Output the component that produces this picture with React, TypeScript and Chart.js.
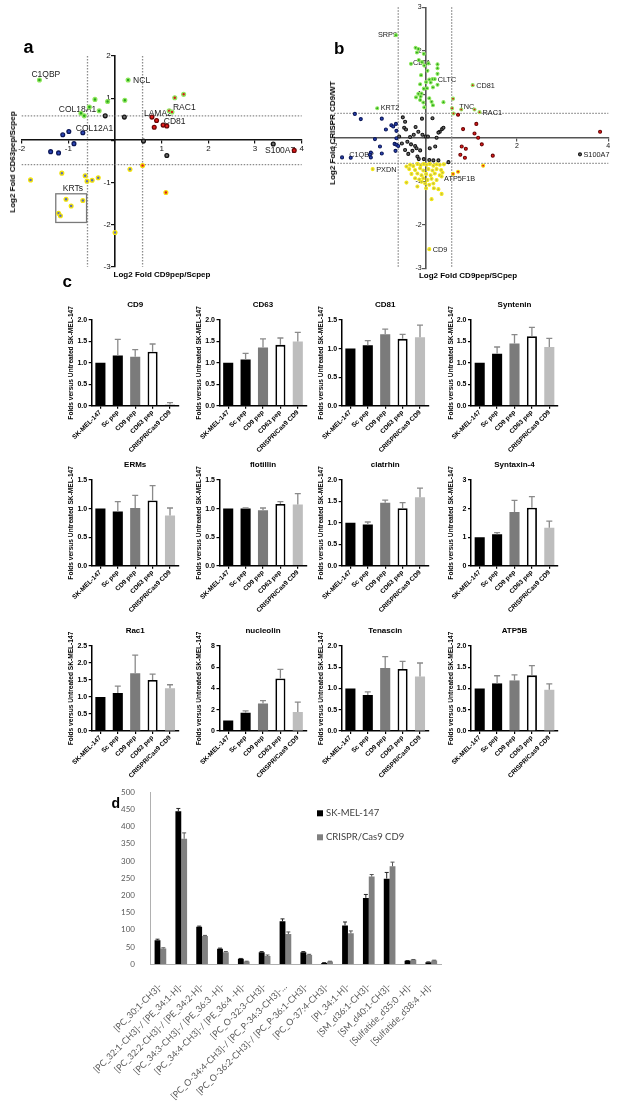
import React, { useEffect, useRef } from 'react';
import { Chart, registerables } from 'chart.js';

Chart.register(...registerables);

const SANS = '"Liberation Sans", Arial, Helvetica, sans-serif';
const XL = 'Lato, "Liberation Sans", sans-serif';

type Pt = { x: number; y: number };
const pt = (x: number, y: number): Pt => ({ x, y });

// ---------------- Panel a data ----------------
const aGreen = [pt(-1.62, 1.43), pt(0.28, 1.43), pt(-0.43, 0.97), pt(-0.16, 0.92), pt(0.21, 0.95), pt(-0.55, 0.79), pt(-0.73, 0.64), pt(-0.66, 0.58), pt(-0.34, 0.70)];
const aGreenRed = [pt(1.28, 1.01), pt(1.47, 1.09), pt(1.16, 0.70), pt(1.22, 0.67)];
const aBlack = [pt(-0.21, 0.58), pt(0.20, 0.55), pt(1.11, -0.36), pt(0.61, -0.02), pt(3.39, -0.09)];
const aRed = [pt(0.79, 0.55), pt(0.89, 0.47), pt(0.84, 0.31), pt(1.03, 0.36), pt(1.11, 0.34), pt(3.84, -0.24)];
const aBlue = [pt(-1.12, 0.13), pt(-0.99, 0.21), pt(-0.69, 0.18), pt(-0.88, -0.08), pt(-1.38, -0.27), pt(-1.21, -0.30)];
const aYellow = [pt(-1.81, -0.94), pt(-1.14, -0.78), pt(-0.64, -0.84), pt(-0.60, -0.97), pt(-0.49, -0.95), pt(-0.36, -0.89), pt(0.32, -0.69), pt(0.0, -2.19), pt(-1.05, -1.40), pt(-0.69, -1.43), pt(-0.94, -1.56), pt(-1.21, -1.73), pt(-1.17, -1.79)];
const aOrange = [pt(0.59, -0.60), pt(1.09, -1.24)];
const aThreshX = [-0.59, 0.59];
const aThreshY = [0.58, -0.58];
const aLabels = [
  { text: 'C1QBP', x: -1.62, y: 1.43 },
  { text: 'NCL', x: 0.28, y: 1.43 },
  { text: 'COL18A1', x: -0.34, y: 0.70 },
  { text: 'COL12A1', x: -0.69, y: 0.18 },
  { text: 'LAMA2', x: 0.79, y: 0.55 },
  { text: 'RAC1', x: 1.22, y: 0.67 },
  { text: 'CD81', x: 1.11, y: 0.34 },
  { text: 'S100A7', x: 3.84, y: -0.24 },
];
const aKrtBox = { text: 'KRTs', x1: -1.27, x2: -0.61, y1: -1.27, y2: -1.95 };

// ---------------- Panel b data ----------------
const bGreen = [pt(-0.65, 2.36), pt(-0.22, 2.07), pt(-0.16, 2.04), pt(-0.19, 1.96), pt(-0.04, 1.93), pt(-0.32, 1.70), pt(-0.15, 1.79), pt(-0.08, 1.74), pt(-0.03, 1.66), pt(0.06, 1.71), pt(0.26, 1.69), pt(0.26, 1.60), pt(0.26, 1.47), pt(0.04, 1.54), pt(-0.10, 1.44), pt(0.15, 1.35), pt(0.20, 1.35), pt(0.08, 1.34), pt(0.01, 1.28), pt(0.11, 1.27), pt(0.26, 1.22), pt(0.16, 1.16), pt(-0.12, 1.23), pt(0.03, 1.14), pt(-0.16, 1.01), pt(-0.09, 1.02), pt(-0.11, 0.95), pt(-0.21, 0.93), pt(-0.12, 0.87), pt(-0.05, 0.81), pt(0.08, 0.91), pt(0.13, 0.83), pt(0.16, 0.75), pt(-0.03, 0.70), pt(0.39, 0.82), pt(-0.04, 1.13), pt(-1.06, 0.68)];
const bGreenRed = [pt(1.03, 1.21), pt(0.60, 0.90), pt(0.58, 0.68), pt(0.78, 0.65), pt(1.07, 0.65), pt(1.18, 0.59), pt(0.61, 0.56)];
const bRed = [pt(0.71, 0.53), pt(0.82, 0.20), pt(1.11, 0.32), pt(1.07, 0.10), pt(1.15, 0.0), pt(0.79, -0.20), pt(0.88, -0.25), pt(1.23, -0.15), pt(0.76, -0.39), pt(0.86, -0.46), pt(1.47, -0.41), pt(3.82, 0.14)];
const bBlack = [pt(3.38, -0.38), pt(-0.50, 0.47), pt(0.15, 0.45), pt(-0.08, 0.44), pt(-0.22, 0.25), pt(-0.45, 0.37), pt(-0.47, 0.23), pt(-0.43, 0.19), pt(-0.34, 0.02), pt(-0.26, 0.07), pt(-0.16, 0.14), pt(-0.07, 0.07), pt(0.0, 0.03), pt(0.05, 0.03), pt(0.24, 0.0), pt(0.31, 0.14), pt(0.36, 0.20), pt(0.39, 0.23), pt(0.28, 0.12), pt(-0.40, -0.09), pt(-0.32, -0.15), pt(-0.58, 0.03), pt(-0.52, -0.13), pt(-0.23, -0.19), pt(-0.20, -0.24), pt(-0.12, -0.29), pt(-0.29, -0.30), pt(-0.45, -0.28), pt(-0.38, -0.37), pt(-0.18, -0.43), pt(-0.15, -0.49), pt(0.09, -0.24), pt(0.21, -0.20), pt(0.17, -0.52), pt(0.28, -0.52), pt(0.50, -0.56), pt(-0.04, -0.49), pt(0.08, -0.51)];
const bBlue = [pt(-1.55, 0.55), pt(-1.42, 0.43), pt(-0.96, 0.44), pt(-0.75, 0.29), pt(-0.65, 0.32), pt(-0.71, 0.26), pt(-0.87, 0.19), pt(-0.64, 0.16), pt(-1.11, -0.03), pt(-0.64, -0.01), pt(-0.68, -0.14), pt(-0.64, -0.16), pt(-0.60, -0.19), pt(-1.0, -0.20), pt(-0.96, -0.36), pt(-1.20, -0.34), pt(-1.22, -0.39), pt(-1.20, -0.45), pt(-0.66, -0.30), pt(-1.64, -0.46), pt(-1.83, -0.45)];
const bYellow = [pt(-1.16, -0.72), pt(0.08, -2.56), pt(-0.42, -0.66), pt(-0.34, -0.62), pt(-0.27, -0.65), pt(-0.18, -0.60), pt(-0.11, -0.63), pt(-0.04, -0.60), pt(0.02, -0.62), pt(0.09, -0.60), pt(0.17, -0.64), pt(0.24, -0.61), pt(0.31, -0.62), pt(0.40, -0.61), pt(-0.36, -0.72), pt(-0.23, -0.74), pt(-0.12, -0.70), pt(-0.05, -0.75), pt(0.06, -0.72), pt(0.15, -0.75), pt(0.24, -0.72), pt(0.34, -0.74), pt(-0.31, -0.83), pt(-0.18, -0.82), pt(-0.09, -0.86), pt(0.01, -0.83), pt(0.11, -0.86), pt(0.20, -0.82), pt(0.31, -0.86), pt(0.37, -0.80), pt(-0.23, -0.93), pt(-0.14, -0.96), pt(-0.05, -0.93), pt(0.04, -0.97), pt(0.13, -0.94), pt(0.24, -0.97), pt(-0.42, -1.03), pt(-0.18, -1.12), pt(-0.01, -1.05), pt(0.08, -1.08), pt(0.17, -1.05), pt(0.01, -1.16), pt(0.18, -1.16), pt(0.28, -1.18), pt(0.35, -1.29), pt(0.13, -1.41), pt(-0.09, -1.01), pt(0.35, -0.89)];
const bOrange = [pt(0.71, -0.78), pt(0.60, -0.83), pt(1.26, -0.64)];
const bThreshX = [-0.6, 0.57];
const bThreshY = [0.56, -0.59];
const bLabels = [
  { text: 'SRP9', x: -0.65, y: 2.36 },
  { text: 'CLTA', x: -0.32, y: 1.70 },
  { text: 'CLTC', x: 0.20, y: 1.35 },
  { text: 'CD81', x: 1.03, y: 1.21 },
  { text: 'TNC', x: 0.78, y: 0.65 },
  { text: 'RAC1', x: 1.18, y: 0.59 },
  { text: 'KRT2', x: -1.06, y: 0.68 },
  { text: 'C1QBP', x: -1.64, y: -0.46 },
  { text: 'PXDN', x: -1.16, y: -0.72 },
  { text: 'S100A7', x: 3.38, y: -0.38 },
  { text: 'ATP5F1B', x: 0.35, y: -0.89 },
  { text: 'CD9', x: 0.08, y: -2.56 },
];

// ---------------- Panel c data ----------------
const cCategories = ['SK-MEL-147', 'Sc pep', 'CD9 pep', 'CD63 pep', 'CRISPR/Cas9 CD9'];
const cd9Vals = [1.0, 1.17, 1.14, 1.26, 0.03];
const cd9Errs = [0, 0.38, 0.17, 0.18, 0.04];
const cd63Vals = [1.0, 1.08, 1.36, 1.42, 1.50];
const cd63Errs = [0, 0.14, 0.20, 0.16, 0.21];
const cd81Vals = [1.0, 1.06, 1.25, 1.17, 1.20];
const cd81Errs = [0, 0.08, 0.09, 0.08, 0.21];
const synteninVals = [1.0, 1.21, 1.45, 1.62, 1.37];
const synteninErrs = [0, 0.16, 0.21, 0.21, 0.20];
const ermsVals = [1.0, 0.95, 1.01, 1.14, 0.88];
const ermsErrs = [0, 0.17, 0.22, 0.26, 0.13];
const flotillinVals = [1.0, 1.0, 0.97, 1.08, 1.07];
const flotillinErrs = [0, 0.01, 0.04, 0.04, 0.19];
const clathrinVals = [1.0, 0.96, 1.47, 1.34, 1.60];
const clathrinErrs = [0, 0.06, 0.06, 0.13, 0.21];
const syntaxinVals = [1.0, 1.10, 1.88, 2.03, 1.33];
const syntaxinErrs = [0, 0.06, 0.41, 0.39, 0.23];
const rac1Vals = [1.0, 1.12, 1.70, 1.50, 1.26];
const rac1Errs = [0, 0.20, 0.53, 0.17, 0.10];
const nucleolinVals = [1.0, 1.72, 2.60, 4.95, 1.80];
const nucleolinErrs = [0, 0.18, 0.25, 0.85, 0.92];
const tenascinVals = [1.0, 0.85, 1.48, 1.46, 1.28];
const tenascinErrs = [0, 0.07, 0.27, 0.18, 0.32];
const atp5bVals = [1.0, 1.12, 1.19, 1.31, 0.97];
const atp5bErrs = [0, 0.18, 0.13, 0.23, 0.14];
const cTitles = ['CD9', 'CD63', 'CD81', 'Syntenin', 'ERMs', 'flotillin', 'clatrhin', 'Syntaxin-4', 'Rac1', 'nucleolin', 'Tenascin', 'ATP5B'];
const cAxisMax = [2, 2, 1.5, 2, 1.5, 1.5, 2, 3, 2.5, 8, 2, 2];
const cAxisStep = [0.5, 0.5, 0.5, 0.5, 0.5, 0.5, 0.5, 1, 0.5, 2, 0.5, 0.5];
const cValues = [cd9Vals, cd63Vals, cd81Vals, synteninVals, ermsVals, flotillinVals, clathrinVals, syntaxinVals, rac1Vals, nucleolinVals, tenascinVals, atp5bVals];
const cErrors = [cd9Errs, cd63Errs, cd81Errs, synteninErrs, ermsErrs, flotillinErrs, clathrinErrs, syntaxinErrs, rac1Errs, nucleolinErrs, tenascinErrs, atp5bErrs];
const cYTitle = 'Folds versus Untreated SK-MEL-147';

// ---------------- Panel d data ----------------
const dCategories = [
  '[PC_30:1-CH3]-',
  '[PC_32:1-CH3]-/ [PE_34:1-H]-',
  '[PC_32:2-CH3]-/ [PE_34:2-H]-',
  '[PC_34:3-CH3]-/ [PE_36:3 -H]-',
  '[PC_34:4-CH3]-/ [PE_36:4 -H]-',
  '[PC_O-32:3-CH3]-',
  '[PC_O-34:4-CH3]-/ [PC_P-34:3-CH3]-…',
  '[PC_O-36:2-CH3]-/ [PC_P-36:1-CH3]-',
  '[PC_O-37:4-CH3]-',
  '[PI_34:1-H]-',
  '[SM_d36:1-CH3]-',
  '[SM_d40:1-CH3]-',
  '[Sulfatide_d35:0 -H]-',
  '[Sulfatide_d38:4 -H]-',
];
const dSeriesNames = ['SK-MEL-147', 'CRISPR/Cas9 CD9'];
const dWildType = [70, 445, 109, 45, 16, 35, 125, 35, 4, 113, 193, 249, 10, 6];
const dWildTypeErr = [3, 8, 2, 2, 1, 2, 7, 2, 1, 10, 10, 18, 1, 1];
const dKnockout = [46, 365, 82, 35, 8, 24, 88, 27, 8, 90, 255, 285, 13, 11];
const dKnockoutErr = [2, 17, 2, 2, 1, 3, 6, 2, 1, 7, 6, 12, 1, 1];
const dTicks = { min: 0, max: 500, step: 50 };

// ---------------- plugins ----------------
function thresholdPlugin(xs: number[], ys: number[], color: string) {
  return {
    id: 'thresholds',
    beforeDatasetsDraw(chart: any) {
      const { ctx, chartArea: ca, scales } = chart;
      ctx.save();
      ctx.strokeStyle = color;
      ctx.lineWidth = 1.3;
      ctx.setLineDash([1.5, 1.5]);
      for (const v of xs) {
        const px = scales.x.getPixelForValue(v);
        ctx.beginPath(); ctx.moveTo(px, ca.top); ctx.lineTo(px, ca.bottom); ctx.stroke();
      }
      for (const v of ys) {
        const py = scales.y.getPixelForValue(v);
        ctx.beginPath(); ctx.moveTo(ca.left, py); ctx.lineTo(ca.right, py); ctx.stroke();
      }
      ctx.restore();
    },
  };
}

function labelPlugin(items: any[], offsets: Record<string, [number, number, CanvasTextAlign]>, font: string) {
  return {
    id: 'pointLabels',
    beforeDatasetsDraw(chart: any) {
      const { ctx, scales } = chart;
      ctx.save();
      ctx.font = font;
      ctx.fillStyle = '#1a1a1a';
      ctx.textBaseline = 'middle';
      for (const l of items) {
        const o = offsets[l.text] || [3, 0, 'left'];
        ctx.textAlign = o[2];
        ctx.fillText(l.text, scales.x.getPixelForValue(l.x) + o[0], scales.y.getPixelForValue(l.y) + o[1]);
      }
      ctx.restore();
    },
  };
}

function boxPlugin(box: any, font: string) {
  return {
    id: 'groupBox',
    beforeDatasetsDraw(chart: any) {
      const { ctx, scales } = chart;
      const l = scales.x.getPixelForValue(box.x1);
      const r = scales.x.getPixelForValue(box.x2);
      const t = scales.y.getPixelForValue(box.y1);
      const b = scales.y.getPixelForValue(box.y2);
      ctx.save();
      ctx.strokeStyle = '#7a7a7a';
      ctx.lineWidth = 1.3;
      ctx.strokeRect(l, t, r - l, b - t);
      ctx.font = font;
      ctx.fillStyle = '#1a1a1a';
      ctx.textAlign = 'left';
      ctx.textBaseline = 'bottom';
      ctx.fillText(box.text, l + 7, t - 0.5);
      ctx.restore();
    },
  };
}

function errorBarPlugin(color: string | null, cap: number, width: number) {
  return {
    id: 'errorBars',
    afterDatasetsDraw(chart: any) {
      const { ctx } = chart;
      chart.data.datasets.forEach((ds: any, i: number) => {
        const errs = ds.errors;
        if (!errs) return;
        const meta = chart.getDatasetMeta(i);
        const yScale = chart.scales[meta.yAxisID];
        ctx.save();
        ctx.strokeStyle = color || ds.errorColor;
        ctx.lineWidth = width;
        meta.data.forEach((el: any, j: number) => {
          const e = errs[j];
          if (!e) return;
          const top = yScale.getPixelForValue(ds.data[j] + e);
          ctx.beginPath();
          ctx.moveTo(el.x, el.y);
          ctx.lineTo(el.x, top);
          ctx.moveTo(el.x - cap, top);
          ctx.lineTo(el.x + cap, top);
          ctx.stroke();
        });
        ctx.restore();
      });
    },
  };
}

function panelTitlePlugin(text: string) {
  return {
    id: 'panelTitle',
    afterDraw(chart: any) {
      const { ctx, chartArea: ca } = chart;
      ctx.save();
      ctx.font = `bold 8px ${SANS}`;
      ctx.fillStyle = '#000';
      ctx.textAlign = 'center';
      ctx.textBaseline = 'middle';
      ctx.fillText(text, (ca.left + ca.right) / 2, ca.top - 15);
      ctx.restore();
    },
  };
}

const legendPlugin = {
  id: 'dLegend',
  afterDraw(chart: any) {
    const { ctx, chartArea: ca } = chart;
    ctx.save();
    ctx.font = `9.5px ${XL}`;
    ctx.textBaseline = 'middle';
    ctx.textAlign = 'left';
    chart.data.datasets.forEach((ds: any, i: number) => {
      const yy = ca.top + 21 + i * 24;
      const xx = ca.left + 167;
      ctx.fillStyle = ds.backgroundColor;
      ctx.fillRect(xx, yy - 3, 6, 6);
      ctx.fillStyle = '#404040';
      ctx.fillText(ds.label, xx + 9, yy);
    });
    ctx.restore();
  },
};

// ---------------- configs ----------------
const hideZero = (v: any) => (Number(v) === 0 ? '' : String(v));
const hideZeroY = (v: any) => (Number(v) === 0 ? '' : String(v) + '  ');

function scatterConfig(o: any) {
  return {
    type: 'scatter',
    data: {
      datasets: o.groups.map((g: any) => ({
        data: g.data,
        pointRadius: o.r,
        pointHoverRadius: o.r,
        pointBackgroundColor: g.fill,
        pointBorderColor: g.stroke,
        pointBorderWidth: o.bw,
      })),
    },
    options: {
      animation: false,
      responsive: false,
      events: [],
      layout: { padding: o.pad },
      plugins: { legend: { display: false }, tooltip: { enabled: false } },
      scales: {
        x: {
          type: 'linear', axis: 'x', min: o.xMin, max: o.xMax, position: { y: 0 },
          ticks: { stepSize: o.xStep, autoSkip: false, color: '#111', font: { family: SANS, size: o.tickSize }, padding: 1, callback: hideZero },
          grid: { display: true, drawOnChartArea: false, drawTicks: true, tickLength: 3, color: o.axisColor, lineWidth: 1.2 },
          border: { display: true, color: o.axisColor, width: 1.6 },
        },
        y: {
          type: 'linear', axis: 'y', min: o.yMin, max: o.yMax, position: { x: 0 },
          ticks: { stepSize: o.yStep, autoSkip: false, color: '#111', font: { family: SANS, size: o.tickSize }, padding: 2, callback: hideZeroY },
          grid: { display: true, drawOnChartArea: false, drawTicks: true, tickLength: 3, color: o.axisColor, lineWidth: 1.2 },
          border: { display: true, color: o.axisColor, width: 1.6 },
        },
      },
    },
    plugins: o.plugins,
  };
}

const groupStyleA = {
  green: { fill: '#2aa61c', stroke: '#8fe85e' },
  greenRed: { fill: '#d81c1c', stroke: '#8fe85e' },
  black: { fill: '#6e6e6e', stroke: '#151515' },
  red: { fill: '#e41a1a', stroke: '#6a0606' },
  blue: { fill: '#2b45b8', stroke: '#0c1858' },
  yellow: { fill: '#5c6cb4', stroke: '#f4e40a' },
  orange: { fill: '#e01e1e', stroke: '#f4dc0a' },
};
const groupStyleB = {
  ...groupStyleA,
  yellow: { fill: '#bdb64a', stroke: '#f6ea1a' },
};

function configA() {
  const s = groupStyleA;
  return scatterConfig({
    groups: [
      { data: aYellow, ...s.yellow }, { data: aOrange, ...s.orange }, { data: aBlue, ...s.blue },
      { data: aBlack, ...s.black }, { data: aRed, ...s.red }, { data: aGreen, ...s.green }, { data: aGreenRed, ...s.greenRed },
    ],
    r: 1.9, bw: 1.3,
    xMin: -2, xMax: 4, yMin: -3, yMax: 2, xStep: 1, yStep: 1, tickSize: 8,
    pad: { left: 21.7, right: 8.3, top: 56, bottom: 23.3 },
    axisColor: '#111',
    plugins: [
      thresholdPlugin(aThreshX, aThreshY, '#8c8c8c'),
      boxPlugin(aKrtBox, `8.5px ${SANS}`),
      labelPlugin(aLabels, {
        C1QBP: [-8, -5, 'left'], NCL: [5, 1, 'left'], COL18A1: [-3, -1, 'right'], COL12A1: [-7, -4, 'left'],
        LAMA2: [-8, -3, 'left'], RAC1: [1, -4, 'left'], CD81: [-3, -4.5, 'left'], S100A7: [1, 0, 'right'],
      }, `8.5px ${SANS}`),
    ],
  });
}

function configB() {
  const s = groupStyleB;
  return scatterConfig({
    groups: [
      { data: bYellow, ...s.yellow }, { data: bOrange, ...s.orange }, { data: bBlue, ...s.blue },
      { data: bBlack, ...s.black }, { data: bRed, ...s.red }, { data: bGreen, ...s.green }, { data: bGreenRed, ...s.greenRed },
    ],
    r: 1.5, bw: 1.1,
    xMin: -2, xMax: 4, yMin: -3, yMax: 3, xStep: 2, yStep: 1, tickSize: 7,
    pad: { left: 34.3, right: 19.7, top: 7.3, bottom: 21.7 },
    axisColor: '#555',
    plugins: [
      thresholdPlugin(bThreshX, bThreshY, '#8c8c8c'),
      labelPlugin(bLabels, {
        SRP9: [1, 0, 'right'], CLTA: [2, -1, 'left'], CLTC: [3, 1, 'left'], CD81: [3.5, 1, 'left'],
        TNC: [-2, -3, 'left'], RAC1: [3, 0.5, 'left'], KRT2: [3.5, 0, 'left'], C1QBP: [-1.5, -3, 'left'],
        PXDN: [3.5, 0.5, 'left'], S100A7: [3.5, 0.5, 'left'], ATP5F1B: [2.5, 2, 'left'], CD9: [3.5, 0.5, 'left'],
      }, `7.3px ${SANS}`),
    ],
  });
}

const cFills = ['#000000', '#000000', '#7b7b7b', '#ffffff', '#bdbdbd'];
const cBorders = [0, 0, 0, 1.8, 0];
const C_YW = 28;
const C_XH = 55;
const C_TOP = 22;

function configC(i: number, padLeft: number) {
  const step = cAxisStep[i];
  return {
    type: 'bar',
    data: {
      labels: cCategories,
      datasets: [{
        data: cValues[i], errors: cErrors[i], backgroundColor: cFills, borderColor: '#000', borderWidth: cBorders,
        borderSkipped: 'bottom', barPercentage: 0.58, categoryPercentage: 1,
      }],
    },
    options: {
      animation: false, responsive: false, events: [],
      layout: { padding: { left: padLeft, right: 6, top: C_TOP, bottom: 0 } },
      plugins: { legend: { display: false }, tooltip: { enabled: false } },
      scales: {
        x: {
          grid: { display: true, drawOnChartArea: false, offset: false, tickLength: 3, color: '#000', lineWidth: 1.2 },
          border: { display: true, color: '#000', width: 1.5 },
          ticks: { minRotation: 45, maxRotation: 45, autoSkip: false, color: '#000', padding: 0, font: { family: SANS, size: 6.5, weight: 'bold' } },
          afterFit: (sc: any) => { sc.height = C_XH; },
        },
        y: {
          min: 0, max: cAxisMax[i],
          grid: { display: true, drawOnChartArea: false, tickLength: 3, color: '#000', lineWidth: 1.2 },
          border: { display: true, color: '#000', width: 1.5 },
          ticks: { stepSize: step, autoSkip: false, color: '#000', padding: 1.5, font: { family: SANS, size: 7, weight: 'bold' },
            callback: (v: any) => (step < 1 ? Number(v).toFixed(1) : String(v)) },
          title: { display: true, text: cYTitle, color: '#000', font: { family: SANS, size: 6.6, weight: 'bold' }, padding: { top: 4, bottom: 0 } },
          afterFit: (sc: any) => { sc.width = C_YW; },
        },
      },
    },
    plugins: [errorBarPlugin('#8a8a8a', 3, 1.3), panelTitlePlugin(cTitles[i])],
  };
}

function configD() {
  return {
    type: 'bar',
    data: {
      labels: dCategories,
      datasets: [
        { label: dSeriesNames[0], data: dWildType, errors: dWildTypeErr, errorColor: '#262626', backgroundColor: '#000000', categoryPercentage: 0.56, barPercentage: 1 },
        { label: dSeriesNames[1], data: dKnockout, errors: dKnockoutErr, errorColor: '#555555', backgroundColor: '#808080', categoryPercentage: 0.56, barPercentage: 1 },
      ],
    },
    options: {
      animation: false, responsive: false, events: [],
      layout: { padding: { left: 0, right: 186.3, top: 12.3, bottom: 0 } },
      plugins: { legend: { display: false }, tooltip: { enabled: false } },
      scales: {
        x: {
          grid: { display: false },
          border: { display: true, color: '#b0b0b0', width: 1 },
          ticks: { minRotation: 45, maxRotation: 45, autoSkip: false, color: '#595959', padding: 9, font: { family: XL, size: 9 } },
          afterFit: (sc: any) => { sc.height = 136.7; },
        },
        y: {
          min: dTicks.min, max: dTicks.max,
          grid: { display: false },
          border: { display: true, color: '#b0b0b0', width: 1 },
          ticks: { stepSize: dTicks.step, autoSkip: false, color: '#595959', padding: 7, font: { family: XL, size: 8 } },
          afterFit: (sc: any) => { sc.width = 110; },
        },
      },
    },
    plugins: [errorBarPlugin(null, 2, 1), legendPlugin],
  };
}

// ---------------- components ----------------
function ChartCanvas({ x, y, w, h, make }: any) {
  const ref = useRef<HTMLCanvasElement>(null);
  useEffect(() => {
    const chart = new Chart(ref.current as HTMLCanvasElement, make());
    return () => chart.destroy();
  }, []);
  return <canvas ref={ref} width={w} height={h} style={{ position: 'absolute', left: x, top: y, width: w, height: h }} />;
}

function Txt({ x, y, size, bold, rotate, center, family, children }: any) {
  const style: any = {
    position: 'absolute', left: x, top: y, fontSize: size, fontWeight: bold ? 'bold' : 'normal',
    fontFamily: family || SANS, lineHeight: 1, whiteSpace: 'nowrap', color: '#000',
  };
  if (center) style.transform = `translate(-50%, -50%)${rotate ? ' rotate(-90deg)' : ''}`;
  return <div style={style}>{children}</div>;
}

const cCols = [91.7, 219.5, 341.7, 471];
const cRowTops = [320, 480, 646];
const cRowBottoms = [405.7, 565.7, 731];
const C_PLOT_W = 87;

export default function App() {
  const cCharts = cTitles.map((_, i) => {
    const col = i % 4;
    const row = Math.floor(i / 4);
    const axisX = cCols[col];
    const cx = Math.floor(axisX - C_YW);
    const padLeft = axisX - C_YW - cx;
    const top = cRowTops[row];
    const cy = Math.floor(top - C_TOP);
    const plotH = cRowBottoms[row] - top;
    const w = Math.ceil(padLeft + C_YW + C_PLOT_W + 6);
    const h = Math.round(C_TOP + (top - C_TOP - cy) + plotH + C_XH);
    const cfg = () => {
      const c: any = configC(i, padLeft);
      c.options.layout.padding.top = top - cy;
      c.options.layout.padding.right = w - padLeft - C_YW - C_PLOT_W;
      c.options.layout.padding.bottom = h - (top - cy) - plotH - C_XH;
      return c;
    };
    return <ChartCanvas key={i} x={cx} y={cy} w={w} h={h} make={cfg} />;
  });

  return (
    <div style={{ position: 'absolute', left: 0, top: 0, width: 628, height: 1101, background: '#fff', overflow: 'hidden' }}>
      <ChartCanvas x={0} y={0} w={310} h={290} make={configA} />
      <ChartCanvas x={300} y={0} w={328} h={290} make={configB} />
      {cCharts}
      <ChartCanvas x={40} y={780} w={588} h={321} make={configD} />

      <Txt x={23.5} y={37.8} size={18} bold>a</Txt>
      <Txt x={334} y={40} size={17} bold>b</Txt>
      <Txt x={62.5} y={272.6} size={17} bold>c</Txt>
      <Txt x={111.5} y={796.3} size={14} bold>d</Txt>

      <Txt x={162} y={275} size={8} bold center>Log2 Fold CD9pep/Scpep</Txt>
      <Txt x={13} y={162} size={8} bold center rotate>Log2 Fold CD63pep/Scpep</Txt>
      <Txt x={468} y={276} size={8} bold center>Log2 Fold CD9pep/SCpep</Txt>
      <Txt x={332.5} y={133} size={8} bold center rotate>Log2 Fold CRISPR CD9/WT</Txt>
    </div>
  );
}
